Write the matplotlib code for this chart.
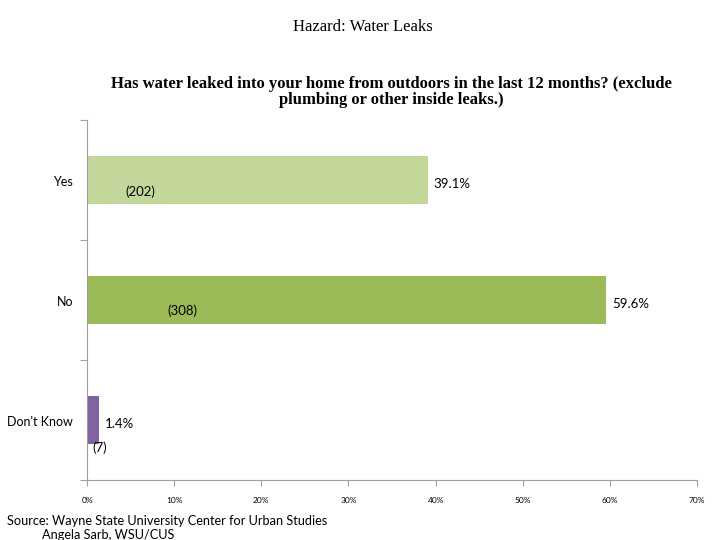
import matplotlib
matplotlib.use('Agg')
import matplotlib.pyplot as plt
from matplotlib.ticker import FuncFormatter, FixedLocator

categories = ['Yes', 'No', "Don't Know"]
percents = [39.1, 59.6, 1.4]
counts = [202, 308, 7]
colors = ['#c4d79b', '#9bbb59', '#8064a2']
xticks = [0, 10, 20, 30, 40, 50, 60, 70]

plt.rcParams['font.family'] = ['Lato', 'DejaVu Sans']

fig = plt.figure(figsize=(7.2, 5.4), dpi=100)
ax = fig.add_axes([0.121, 0.111, 0.847, 0.667])

ypos = list(range(len(categories)))
ax.barh(ypos, percents, height=0.4, color=colors)
ax.set_ylim(len(categories) - 0.5, -0.5)
ax.set_xlim(0, 70)

# percent labels at bar ends, counts inside / below
count_x = [6.1, 10.9, 1.4]
count_dy = [0.1, 0.09, 0.23]
for i, (p, c) in enumerate(zip(percents, counts)):
    ax.text(p + 0.65, i + 0.03, f'{p:.1f}%', va='center', ha='left', fontsize=9.5)
    ax.text(count_x[i], i + count_dy[i], f'({c})', va='center', ha='center', fontsize=9.5)

ax.yaxis.set_major_locator(FixedLocator([-0.5, 0.5, 1.5, 2.5]))
ax.set_yticklabels([])
for i, cat in enumerate(categories):
    ax.text(-1.6, i + 0.02, cat, ha='right', va='center', fontsize=9)
ax.tick_params(axis='y', which='major', length=5, color='#a0a0a0')

ax.set_xticks(xticks)
ax.xaxis.set_major_formatter(FuncFormatter(lambda v, _: f'{v:.0f}%'))
ax.tick_params(axis='x', length=4, color='#a0a0a0', labelsize=6, pad=8)

for s in ['top', 'right']:
    ax.spines[s].set_visible(False)
for s in ['left', 'bottom']:
    ax.spines[s].set_color('#a0a0a0')

fig.text(0.504, 0.95, 'Hazard: Water Leaks', ha='center', va='center',
         fontsize=12, family='Liberation Serif')
fig.text(0.544, 0.83, 'Has water leaked into your home from outdoors in the last 12 months? (exclude\nplumbing or other inside leaks.)',
         ha='center', va='center', fontsize=12, fontweight='bold',
         family='Liberation Serif', linespacing=1.0)

fig.text(0.01, 0.035, 'Source: Wayne State University Center for Urban Studies',
         ha='left', va='center', fontsize=9.2)
fig.text(0.058, 0.01, 'Angela Sarb, WSU/CUS', ha='left', va='center', fontsize=9.2)

plt.savefig('out.png', dpi=100)
plt.close()
